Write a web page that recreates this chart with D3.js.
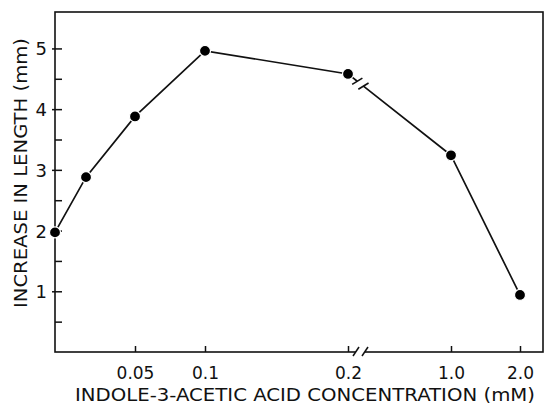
<!DOCTYPE html>
<html>
<head>
<meta charset="utf-8">
<script src="https://cdn.jsdelivr.net/npm/d3@7"></script>
<style>
  body { margin: 0; background: #fff; }
  svg { display: block; }
  text { font-family: "DejaVu Sans", sans-serif; fill: #111; }
</style>
</head>
<body>
<div id="chart"></div>
<script>
// IAA concentration (mM) vs. increase in length (mm)
const concentrations = [0.02, 0.03, 0.05, 0.1, 0.2, 1.0, 2.0];
const lengthIncrease = [1.97, 2.88, 3.88, 4.96, 4.58, 3.24, 0.94];
const xTickValues = [0.05, 0.1, 0.2, 1.0, 2.0];
const xTickLabels = ["0.05", "0.1", "0.2", "1.0", "2.0"];
const yTickValues = [1, 2, 3, 4, 5];
const yMinorTicks = [0.5, 1.5, 2.5, 3.5, 4.5];

const svgWidth = 547, svgHeight = 405;
const margin = {top: 12, right: 4, bottom: 53, left: 55},
      width = svgWidth - margin.left - margin.right,
      height = svgHeight - margin.top - margin.bottom;

const svg = d3.select("#chart").append("svg")
    .attr("width", svgWidth)
    .attr("height", svgHeight);

const g = svg.append("g")
    .attr("transform", "translate(" + margin.left + "," + margin.top + ")");

// broken, non-uniform concentration axis -> piecewise scale
const x = d3.scaleLinear()
    .domain([0.02, 0.03, 0.05, 0.1, 0.2, 1.0, 2.0])
    .range([0, 31, 80, 150, 293, 396, 465]);
const y = d3.scaleLinear().domain([0, 5.6]).range([height, 0]);

const data = concentrations.map((c, i) => ({c: c, v: lengthIncrease[i]}));

// frame
g.append("rect")
    .attr("width", width).attr("height", height)
    .attr("fill", "none").attr("stroke", "#111").attr("stroke-width", 1.6);

// x axis
const xAxis = g.append("g")
    .attr("transform", "translate(0," + height + ")")
    .call(d3.axisBottom(x).tickValues(xTickValues)
        .tickFormat((d, i) => xTickLabels[i])
        .tickSize(-6).tickPadding(15));
xAxis.select(".domain").remove();
xAxis.selectAll("line").attr("stroke", "#111").attr("stroke-width", 1.5);
xAxis.selectAll("text").attr("font-size", 17).attr("fill", "#111");

// y axis
const yAxis = g.append("g")
    .call(d3.axisLeft(y).tickValues(yTickValues).tickFormat(d3.format("d"))
        .tickSize(3).tickPadding(5));
yAxis.select(".domain").remove();
yAxis.selectAll("line").attr("stroke", "#111").attr("stroke-width", 1.5).attr("x2", 7).attr("x1", -3);
yAxis.selectAll("text").attr("font-size", 18).attr("fill", "#111").attr("dy", "0.36em");

const yMinor = g.append("g")
    .call(d3.axisLeft(y).tickValues(yMinorTicks).tickSize(-7).tickFormat(""));
yMinor.select(".domain").remove();
yMinor.selectAll("line").attr("stroke", "#111").attr("stroke-width", 1.5);

// axis break on the x axis
const bx = x(0.2) + 8;
g.append("rect")
    .attr("x", bx).attr("y", height - 2).attr("width", 9).attr("height", 4)
    .attr("fill", "#fff");
[0, 9].forEach(dx => {
  g.append("line")
      .attr("x1", bx + dx - 3).attr("y1", height + 4)
      .attr("x2", bx + dx + 3).attr("y2", height - 5)
      .attr("stroke", "#111").attr("stroke-width", 1.5);
});

// data line, broken between 0.2 and 1.0
const line = d3.line().x(d => x(d.c)).y(d => y(d.v));
const p5 = data[4], p6 = data[5];
const ax = x(p5.c), ay = y(p5.v), cx = x(p6.c), cy = y(p6.v);
const t1 = 0.09, t2 = 0.15;
const b1 = [ax + (cx - ax) * t1, ay + (cy - ay) * t1];
const b2 = [ax + (cx - ax) * t2, ay + (cy - ay) * t2];

g.append("path")
    .attr("d", line(data.slice(0, 5)) + "L" + b1[0] + "," + b1[1] +
               "M" + b2[0] + "," + b2[1] + "L" + cx + "," + cy +
               line(data.slice(5)).replace(/^M/, "L"))
    .attr("fill", "none").attr("stroke", "#111").attr("stroke-width", 1.7);

// slash marks on the line
const ang = Math.atan2(cy - ay, cx - ax) - Math.PI / 2 + 0.35;
[b1, b2].forEach(b => {
  const dx = Math.cos(ang) * 6, dy = Math.sin(ang) * 6;
  g.append("line")
      .attr("x1", b[0] - dx).attr("y1", b[1] - dy)
      .attr("x2", b[0] + dx).attr("y2", b[1] + dy)
      .attr("stroke", "#111").attr("stroke-width", 1.6);
});

// points
g.selectAll("circle")
    .data(data)
    .enter().append("circle")
    .attr("cx", d => x(d.c))
    .attr("cy", d => y(d.v))
    .attr("r", 5.5)
    .attr("fill", "#000")
    .attr("stroke", "#fff").attr("stroke-width", 1.2);

// axis titles
svg.append("text")
    .attr("x", 75).attr("y", 401)
    .attr("font-size", 17)
    .attr("textLength", 460).attr("lengthAdjust", "spacingAndGlyphs")
    .text("INDOLE-3-ACETIC ACID CONCENTRATION (mM)");

svg.append("text")
    .attr("transform", "translate(27,308) rotate(-90)")
    .attr("font-size", 17)
    .attr("textLength", 270).attr("lengthAdjust", "spacingAndGlyphs")
    .text("INCREASE IN LENGTH (mm)");
</script>
</body>
</html>
